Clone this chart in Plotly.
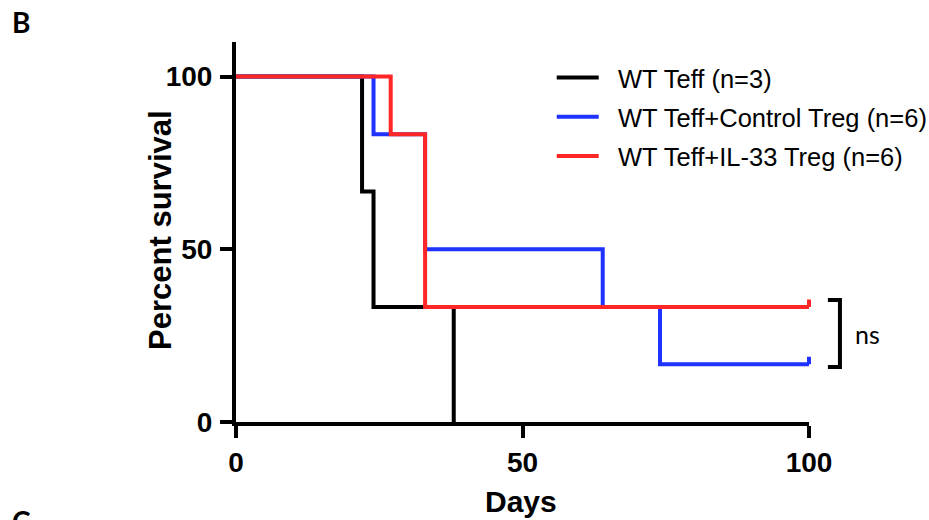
import plotly.graph_objects as go

# Kaplan-Meier step data (days, percent survival)
wt_days = [0, 22, 22, 24, 24, 38, 38]
wt_surv = [100, 100, 66.7, 66.7, 33.3, 33.3, 0]

ctrl_days = [0, 24, 24, 33, 33, 64, 64, 74, 74, 100]
ctrl_surv = [100, 100, 83.3, 83.3, 50, 50, 33.3, 33.3, 16.7, 16.7]

il33_days = [0, 27, 27, 33, 33, 100]
il33_surv = [100, 100, 83.3, 83.3, 33.3, 33.3]

names = ["WT Teff (n=3)", "WT Teff+Control Treg (n=6)", "WT Teff+IL-33 Treg (n=6)"]
colors = ["#000000", "#1f32ff", "#ff2626"]

series = [(wt_days, wt_surv), (ctrl_days, ctrl_surv), (il33_days, il33_surv)]

AXIS_FONT = "Liberation Sans, Arial, sans-serif"
LABEL_FONT = "Lato, Open Sans, sans-serif"
GAP = "\u00a0\u00a0"  # extra room between legend line and its label

fig = go.Figure()
for i, ((d, s), name, col) in enumerate(zip(series, names, colors)):
    fig.add_trace(go.Scatter(
        x=d, y=s, mode="lines", name=GAP + name, legendgroup=str(i),
        line=dict(color=col, width=4),
        cliponaxis=False,
    ))

annotations = []
# censor ticks at the last follow-up of the surviving groups
for (d, s), col in zip(series[1:], colors[1:]):
    annotations.append(dict(x=d[-1], y=s[-1], xref="x", yref="y", text="",
                            showarrow=True, arrowhead=0, arrowwidth=4,
                            arrowcolor=col, ax=0, ay=-9))

annotations += [
    # comparison label next to the bracket
    dict(x=1.077, y=0.232, xref="paper", yref="paper", text="ns",
         showarrow=False, xanchor="left", yanchor="middle",
         font=dict(family=LABEL_FONT, size=25, color="black")),
    # panel letters
    dict(x=-0.375, y=1.0526, xref="paper", yref="paper", text="<b>B</b>",
         showarrow=False, xanchor="center", yanchor="middle",
         font=dict(family=LABEL_FONT, size=28, color="black")),
    dict(x=-0.375, y=-0.21, xref="paper", yref="paper", text="<b>C</b>",
         showarrow=False, xanchor="center", yanchor="top",
         font=dict(family=LABEL_FONT, size=28, color="black")),
    # axis titles
    dict(x=-0.133, y=0.505, xref="paper", yref="paper", text="<b>Percent survival</b>",
         textangle=-90, showarrow=False, xanchor="center", yanchor="middle",
         font=dict(family=AXIS_FONT, size=31, color="black")),
    dict(x=0.497, y=-0.21, xref="paper", yref="paper", text="<b>Days</b>",
         showarrow=False, xanchor="center", yanchor="middle",
         font=dict(family=AXIS_FONT, size=30, color="black")),
]

# significance bracket between the two Treg groups
shapes = [dict(type="path", xref="paper", yref="paper",
               path="M 1.033 0.321 L 1.054 0.321 L 1.054 0.145 L 1.033 0.145",
               line=dict(color="black", width=4))]

tick_font = dict(family=AXIS_FONT, size=28, color="black", weight="bold")

fig.update_layout(
    width=929, height=520,
    margin=dict(l=236, r=120, t=42, b=98, autoexpand=False),
    paper_bgcolor="white", plot_bgcolor="white",
    showlegend=True,
    legend=dict(x=0.551, y=0.967, xanchor="left", yanchor="top",
                tracegroupgap=3, traceorder="grouped", itemwidth=42,
                font=dict(family=AXIS_FONT, size=25.5, color="black"),
                bgcolor="rgba(0,0,0,0)"),
    annotations=annotations,
    shapes=shapes,
    xaxis=dict(range=[0, 100], tickvals=[0, 50, 100], showgrid=False, zeroline=False,
               showline=True, linewidth=4, linecolor="black",
               ticks="outside", ticklen=12, tickwidth=4, tickcolor="black",
               tickfont=tick_font),
    yaxis=dict(range=[0, 110], tickvals=[0, 50, 100], showgrid=False, zeroline=False,
               showline=True, linewidth=4, linecolor="black",
               ticks="outside", ticklen=12, tickwidth=4, tickcolor="black",
               ticklabelstandoff=2, tickfont=tick_font),
)

fig.write_html("out.html")
